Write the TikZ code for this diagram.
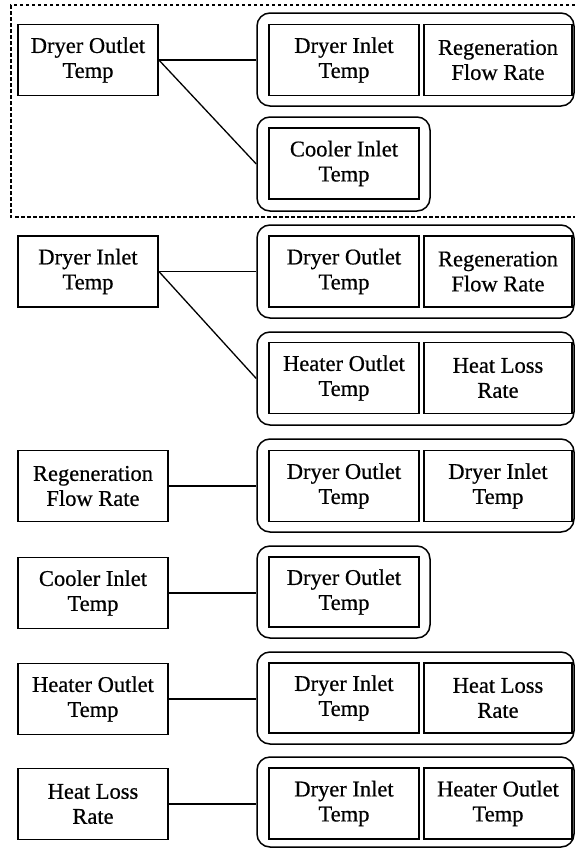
\documentclass[tikz,border=0pt]{standalone}
\usepackage{fontspec}
\setmainfont{Liberation Serif}
\newfontfamily\labelfont{Liberation Serif}[FakeBold=0.6]
\begin{document}
\begin{tikzpicture}[x=1pt,y=-1pt,
  cell/.style={draw, line width=1.8pt, inner sep=0pt, align=center,
    minimum height=71pt, font=\labelfont\fontsize{22.5pt}{25pt}\selectfont},
  lnar/.style={cell, minimum width=140pt},
  lwide/.style={cell, minimum width=150pt},
  ione/.style={cell, minimum width=150pt},
  itwo/.style={cell, minimum width=148pt},
  grp/.style={draw, line width=1.5pt, rounded corners=13pt, inner sep=0pt},
  grpwide/.style={grp, minimum width=317pt},
  grpnar/.style={grp, minimum width=173pt},
  link/.style={line width=1.3pt},
  frame/.style={line width=1.3pt, dash pattern=on 3.5pt off 2.5pt}]
\useasboundingbox (0,0) rectangle (575,849);

% dashed frame around the first relation (open towards the right edge)
\coordinate (ftr) at (575,5);
\coordinate (ftl) at (11,5);
\coordinate (fbl) at (11,217);
\coordinate (fbr) at (575,217);
\draw[frame] (ftr) -- (ftl) -- (fbl) -- (fbr);

% --- Dryer Outlet Temp ---
\node[lnar] (a1) at (88,60) {Dryer Outlet\\Temp};
\node[grpwide, minimum height=93pt] (g1a) at (415.5,59.5) {};
\node[ione] (b1a) at (344,60) {Dryer Inlet\\Temp};
\node[itwo] (c1a) at (498,60) {Regeneration\\Flow Rate};
\node[grpnar, minimum height=94pt] (g1b) at (343.5,164) {};
\node[ione] (b1b) at (344,163.5) {Cooler Inlet\\Temp};
\draw[link] (a1.east) -- (a1.east -| g1a.west);
\draw[link] (a1.east) -- (g1b.west);

% --- Dryer Inlet Temp ---
\node[lnar] (a2) at (88,271.5) {Dryer Inlet\\Temp};
\node[grpwide, minimum height=93pt] (g2a) at (415.5,271.5) {};
\node[ione] (b2a) at (344,271.5) {Dryer Outlet\\Temp};
\node[itwo] (c2a) at (498,271.5) {Regeneration\\Flow Rate};
\node[grpwide, minimum height=93pt] (g2b) at (415.5,378.5) {};
\node[ione] (b2b) at (344,378) {Heater Outlet\\Temp};
\node[itwo] (c2b) at (498,378) {Heat Loss\\Rate};
\draw[link] (a2.east) -- (a2.east -| g2a.west);
\draw[link] (a2.east) -- (g2b.west);

% --- Regeneration Flow Rate ---
\node[lwide] (a3) at (93,486) {Regeneration\\Flow Rate};
\node[grpwide, minimum height=93pt] (g3) at (415.5,485.5) {};
\node[ione] (b3) at (344,486) {Dryer Outlet\\Temp};
\node[itwo] (c3) at (498,486) {Dryer Inlet\\Temp};
\draw[link] (a3.east) -- (a3.east -| g3.west);

% --- Cooler Inlet Temp ---
\node[lwide] (a4) at (93,593) {Cooler Inlet\\Temp};
\node[grpnar, minimum height=92pt] (g4) at (343.5,592) {};
\node[ione, minimum height=70pt] (b4) at (344,592) {Dryer Outlet\\Temp};
\draw[link] (a4.east) -- (a4.east -| g4.west);

% --- Heater Outlet Temp ---
\node[lwide] (a5) at (93,699) {Heater Outlet\\Temp};
\node[grpwide, minimum height=92pt] (g5) at (415.5,698) {};
\node[ione, minimum height=70pt] (b5) at (344,698) {Dryer Inlet\\Temp};
\node[itwo, minimum height=70pt] (c5) at (498,698) {Heat Loss\\Rate};
\draw[link] (a5.east) -- (a5.east -| g5.west);

% --- Heat Loss Rate ---
\node[lwide] (a6) at (93,804) {Heat Loss\\Rate};
\node[grpwide, minimum height=90pt] (g6) at (415.5,802) {};
\node[ione] (b6) at (344,803.5) {Dryer Inlet\\Temp};
\node[itwo] (c6) at (498,803.5) {Heater Outlet\\Temp};
\draw[link] (a6.east) -- (a6.east -| g6.west);
\end{tikzpicture}
\end{document}
